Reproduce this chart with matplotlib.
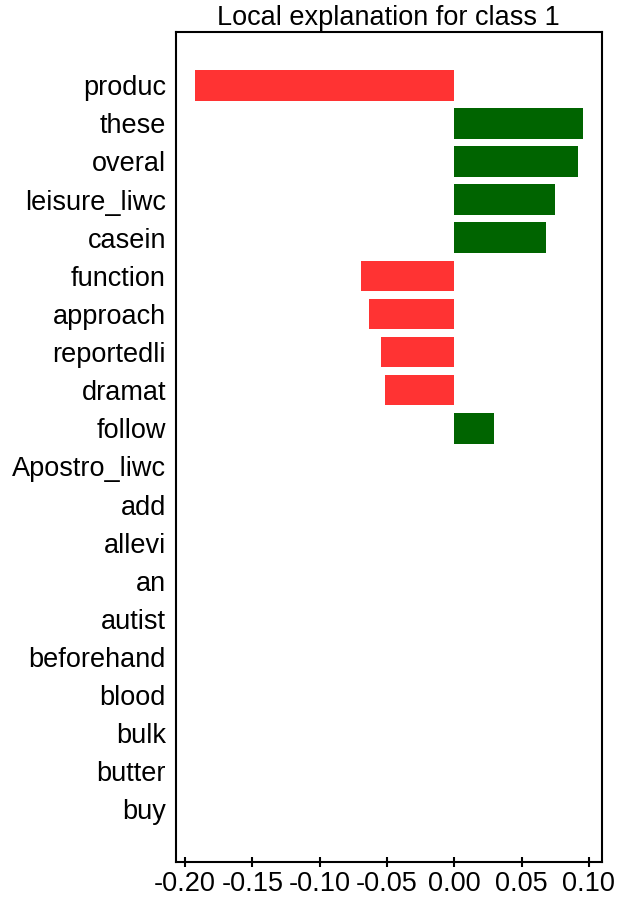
import matplotlib
matplotlib.use("Agg")
import matplotlib.pyplot as plt
import numpy as np

plt.rcParams['font.family'] = ['Liberation Sans', 'DejaVu Sans']

# feature names top to bottom, with their weights
names = ['produc', 'these', 'overal', 'leisure_liwc', 'casein', 'function',
         'approach', 'reportedli', 'dramat', 'follow', 'Apostro_liwc', 'add',
         'allevi', 'an', 'autist', 'beforehand', 'blood', 'bulk', 'butter', 'buy']
vals = [-0.1926, 0.0953, 0.0919, 0.0751, 0.0684, -0.0696,
        -0.0630, -0.0545, -0.0511, 0.0296, 0.0, 0.0,
        0.0, 0.0, 0.0, 0.0, 0.0, 0.0, 0.0, 0.0]

# lime style: first feature at the top
names = names[::-1]
vals = vals[::-1]
colors = ['#006400' if v > 0 else '#ff3333' for v in vals]
pos = np.arange(len(vals)) + .5

fig = plt.figure(figsize=(6.25, 8.97), dpi=100)
ax = fig.add_axes([0.281, 0.0386, 0.682, 0.9254])
ax.barh(pos, vals, align='center', color=colors, height=0.8)
ax.set_yticks(pos)
ax.set_yticklabels(names)
ax.set_xticks([-0.20, -0.15, -0.10, -0.05, 0.00, 0.05, 0.10])
ax.set_xticklabels(['-0.20', '-0.15', '-0.10', '-0.05', '0.00', '0.05', '0.10'])
ax.set_title("Local explanation for class 1", fontsize=19.5, pad=5)

ax.tick_params(axis='y', length=0, pad=7, labelsize=19.5)
ax.tick_params(axis='x', direction='inout', length=7, width=1.5, pad=3, labelsize=19.5)
for s in ax.spines.values():
    s.set_linewidth(1.5)

fig.savefig('out.png', dpi=100)
